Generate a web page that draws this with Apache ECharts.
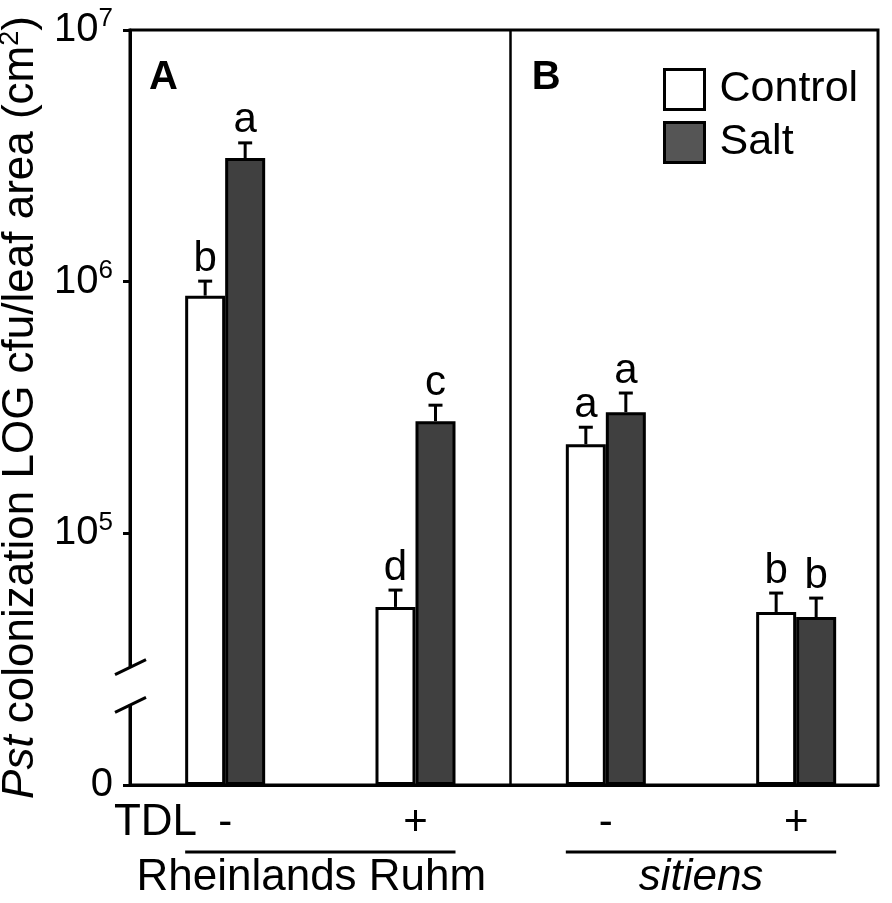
<!DOCTYPE html>
<html>
<head>
<meta charset="utf-8">
<script src="https://cdn.jsdelivr.net/npm/echarts@6/dist/echarts.min.js"></script>
<style>
html, body { margin: 0; padding: 0; background: #fff; }
#chart { width: 892px; height: 903px; }
</style>
</head>
<body>
<div id="chart"></div>
<script>
// values, cfu per cm2 leaf area
var groups = ['-', '+', '-', '+'];              // TDL per group
var controlMean = [8.8e5, 5.1e4, 2.26e5, 4.87e4];
var controlErr  = [1.25e5, 0.85e4, 0.38e5, 0.92e4];
var saltMean    = [3.1e6, 2.79e5, 3.03e5, 4.65e4];
var saltErr     = [0.46e6, 0.44e5, 0.58e5, 0.88e4];
var controlLetters = ['b', 'd', 'a', 'b'];
var saltLetters    = ['a', 'c', 'a', 'b'];
var yTickLabels = ['0', '5', '6', '7'];          // bottom is drawn as "0"

var BASE = 4;   // log10 of the axis bottom
var FONT = '"Liberation Sans", Arial, sans-serif';

function lg(v) { return Math.log10(v) - BASE; }

var myChart = echarts.init(document.getElementById('chart'));

function errRender(offset, letters) {
    return function (params, api) {
        var top = api.coord([api.value(0), api.value(1)]);
        var up = api.coord([api.value(0), api.value(2)]);
        var x = top[0] + offset;
        return {
            type: 'group',
            children: [
                { type: 'line', shape: { x1: x, y1: top[1], x2: x, y2: up[1] }, style: { stroke: '#000', lineWidth: 3 } },
                { type: 'line', shape: { x1: x - 7, y1: up[1], x2: x + 7, y2: up[1] }, style: { stroke: '#000', lineWidth: 3 } },
                {
                    type: 'text', x: x, y: up[1] - 1,
                    style: { text: letters[params.dataIndex], fill: '#000', fontSize: 42, fontFamily: FONT, align: 'center', verticalAlign: 'bottom' }
                }
            ]
        };
    };
}

var option = {
    animation: false,
    grid: {
        left: 130, right: 14, top: 30, bottom: 118,
        show: true, borderColor: '#000', borderWidth: 3,
        outerBoundsMode: 'none'
    },
    legend: {
        orient: 'vertical',
        left: 663, top: 68,
        padding: 0,
        itemWidth: 40, itemHeight: 40, itemGap: 10,
        icon: 'rect',
        itemStyle: { borderColor: '#000', borderWidth: 3 },
        textStyle: { fontSize: 43, lineHeight: 40, fontFamily: FONT, color: '#000', padding: [0, 0, 0, 10] },
        data: [
            { name: 'Control' },
            { name: 'Salt', itemStyle: { color: '#555555' } }
        ]
    },
    xAxis: {
        type: 'value',
        min: 0.5, max: 4.43,
        splitLine: { show: false },
        axisTick: { show: false },
        axisLine: { show: true, lineStyle: { color: '#000', width: 3 } },
        axisLabel: {
            customValues: [1, 2, 3, 4],
            formatter: function (v) { return groups[Math.round(v) - 1]; },
            fontSize: 42, fontFamily: FONT, color: '#000', margin: 17
        }
    },
    yAxis: {
        type: 'value',
        min: 0, max: 3, interval: 1,
        splitLine: { show: false },
        axisLine: { show: true, lineStyle: { color: '#000', width: 3 } },
        axisTick: { show: true, length: 7, lineStyle: { color: '#000', width: 3 } },
        axisLabel: {
            margin: 17, color: '#000', fontFamily: FONT, fontSize: 40,
            formatter: function (v) {
                var t = yTickLabels[Math.round(v)];
                return t === '0' ? '{b|0}' : '{b|10}{s|' + t + '}';
            },
            rich: {
                b: { fontSize: 40, fontFamily: FONT, color: '#000' },
                s: { fontSize: 26, fontFamily: FONT, color: '#000', padding: [0, 0, 22, 0] }
            }
        },
        name: '{i|Pst} colonization LOG cfu/leaf area (cm{s|2})',
        nameLocation: 'middle',
        nameRotate: 90,
        nameGap: 78,
        nameTextStyle: {
            fontSize: 44, fontFamily: FONT, color: '#000',
            rich: {
                i: { fontSize: 44, fontFamily: FONT, fontStyle: 'italic', color: '#000' },
                s: { fontSize: 27, fontFamily: FONT, color: '#000', padding: [0, 0, 22, 0] }
            }
        }
    },
    series: [
        {
            name: 'Control',
            type: 'bar',
            barWidth: 40,
            barGap: '0%',
            itemStyle: { color: '#ffffff', borderColor: '#000', borderWidth: 3 },
            data: controlMean.map(function (v, i) { return [i + 1, lg(v)]; })
        },
        {
            name: 'Salt',
            type: 'bar',
            barWidth: 40,
            barGap: '0%',
            itemStyle: { color: '#404040', borderColor: '#000', borderWidth: 3 },
            data: saltMean.map(function (v, i) { return [i + 1, lg(v)]; })
        },
        {
            type: 'custom',
            z: 5,
            renderItem: errRender(-20, controlLetters),
            data: controlMean.map(function (v, i) { return [i + 1, lg(v), lg(v + controlErr[i])]; }),
            // divider between panel A and panel B
            markLine: {
                silent: true,
                symbol: 'none',
                label: { show: false },
                lineStyle: { color: '#000', type: 'solid', width: 2.5 },
                data: [{ xAxis: 2.5 }]
            }
        },
        {
            type: 'custom',
            z: 5,
            renderItem: errRender(20, saltLetters),
            data: saltMean.map(function (v, i) { return [i + 1, lg(v), lg(v + saltErr[i])]; })
        }
    ]
};

myChart.setOption(option);

// decorations placed from the axes
var px = function (x) { return myChart.convertToPixel({ xAxisIndex: 0 }, x); };
var py = function (y) { return myChart.convertToPixel({ yAxisIndex: 0 }, y); };
var axisX = px(0.5);
var yBot = py(0);
var brkHi = py(0.47), brkLo = py(0.32);
var aL = px(1) - 40, aR = px(2) + 40, bL = px(3) - 40, bR = px(4) + 40;

myChart.setOption({
    graphic: [
        // axis break
        { type: 'rect', z: 100, shape: { x: axisX - 6, y: brkHi, width: 12, height: brkLo - brkHi }, style: { fill: '#fff' } },
        { type: 'line', z: 101, shape: { x1: axisX - 15, y1: brkHi + 8, x2: axisX + 16, y2: brkHi - 7 }, style: { stroke: '#000', lineWidth: 3 } },
        { type: 'line', z: 101, shape: { x1: axisX - 15, y1: brkLo + 8, x2: axisX + 16, y2: brkLo - 7 }, style: { stroke: '#000', lineWidth: 3 } },
        // panel letters
        { type: 'text', z: 100, x: 149, y: 78, style: { text: 'A', fontSize: 40, fontWeight: 'bold', fontFamily: FONT, fill: '#000', verticalAlign: 'middle' } },
        { type: 'text', z: 100, x: px(2.5) + 21, y: 78, style: { text: 'B', fontSize: 40, fontWeight: 'bold', fontFamily: FONT, fill: '#000', verticalAlign: 'middle' } },
        // TDL row
        { type: 'text', z: 100, x: 197, y: yBot + 38, style: { text: 'TDL', fontSize: 44, fontFamily: FONT, fill: '#000', align: 'right', verticalAlign: 'middle' } },
        // genotype brackets
        { type: 'line', z: 100, shape: { x1: aL, y1: yBot + 67, x2: aR, y2: yBot + 67 }, style: { stroke: '#000', lineWidth: 3 } },
        { type: 'line', z: 100, shape: { x1: bL, y1: yBot + 67, x2: bR, y2: yBot + 67 }, style: { stroke: '#000', lineWidth: 3 } },
        { type: 'text', z: 100, x: (aL + aR) / 2 - 9, y: yBot + 93, style: { text: 'Rheinlands Ruhm', fontSize: 44, fontFamily: FONT, fill: '#000', align: 'center', verticalAlign: 'middle' } },
        { type: 'text', z: 100, x: (bL + bR) / 2, y: yBot + 93, style: { text: 'sitiens', fontSize: 44, fontStyle: 'italic', fontFamily: FONT, fill: '#000', align: 'center', verticalAlign: 'middle' } }
    ]
});

window.addEventListener('resize', function () {
    myChart.resize();
});
</script>
</body>
</html>
